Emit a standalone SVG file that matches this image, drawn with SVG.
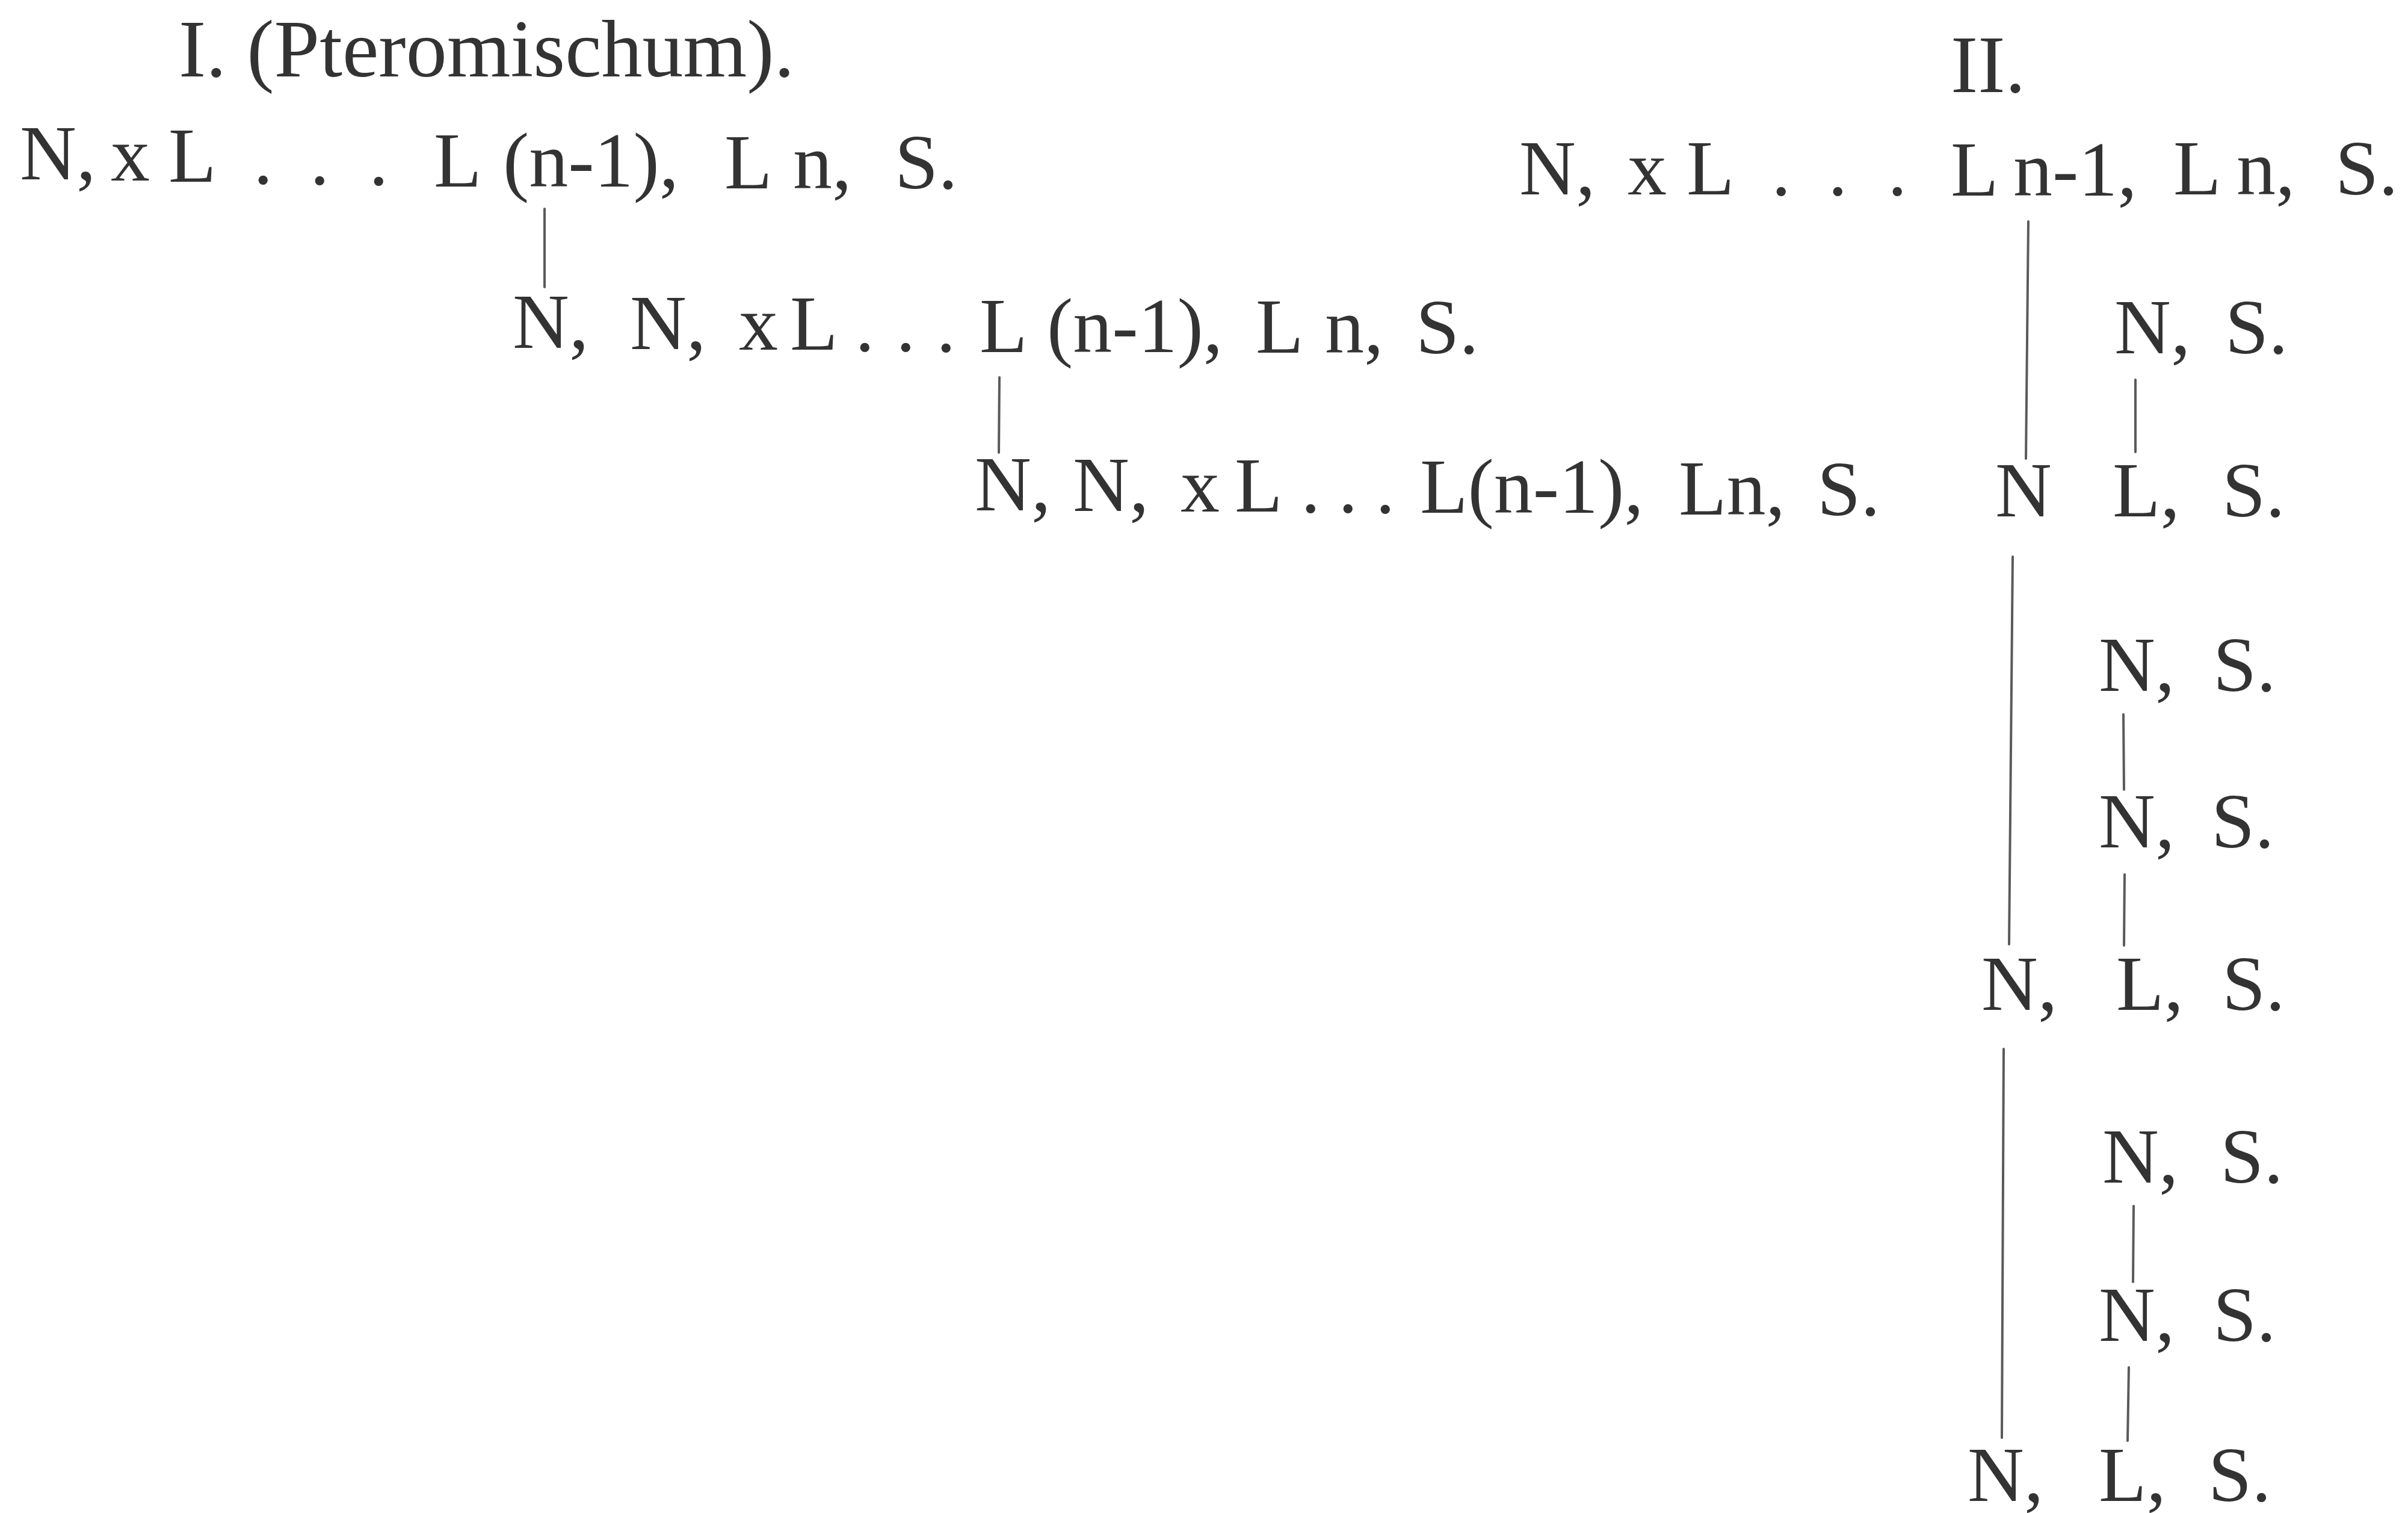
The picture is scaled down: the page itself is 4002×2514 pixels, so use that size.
<svg xmlns="http://www.w3.org/2000/svg" width="4002" height="2514" viewBox="0 0 4002 2514">
<style>
.t{font-family:"Liberation Serif","Times New Roman",serif;font-size:130px;fill:#333333}
.h{font-size:136px}
.c{stroke:#5a5a5a;stroke-width:4;fill:none;stroke-linecap:round}
</style>
<rect width="4002" height="2514" fill="#ffffff"/>
<g id="title-1"><text class="t h" x="297" y="127">I. (Pteromischum).</text></g>
<g id="title-2"><text class="t h" x="3242" y="153">II.</text></g>
<g id="left-row-1"><text class="t"><tspan x="33" y="298">N,</tspan><tspan x="184" y="300">x</tspan><tspan x="280" y="302">L</tspan><tspan x="421" y="305">.</tspan><tspan x="515" y="306">.</tspan><tspan x="613" y="307">.</tspan><tspan x="721" y="310">L</tspan><tspan x="836" y="310">(n-1),</tspan><tspan x="1204" y="313">L</tspan><tspan x="1318" y="313">n,</tspan><tspan x="1487" y="313">S.</tspan></text></g>
<g id="left-row-2"><text class="t"><tspan x="852" y="578">N,</tspan><tspan x="1047" y="580">N,</tspan><tspan x="1228" y="581">x</tspan><tspan x="1313" y="581">L</tspan><tspan x="1421" y="583">.</tspan><tspan x="1489" y="583">.</tspan><tspan x="1556" y="584">.</tspan><tspan x="1628" y="585">L</tspan><tspan x="1740" y="585">(n-1),</tspan><tspan x="2087" y="586">L</tspan><tspan x="2202" y="586">n,</tspan><tspan x="2353" y="587">S.</tspan></text></g>
<g id="left-row-3"><text class="t"><tspan x="1620" y="848">N,</tspan><tspan x="1783" y="849">N,</tspan><tspan x="1962" y="850">x</tspan><tspan x="2052" y="850">L</tspan><tspan x="2162" y="851">.</tspan><tspan x="2224" y="851">.</tspan><tspan x="2286" y="852">.</tspan><tspan x="2360" y="852">L(n-1),</tspan><tspan x="2790" y="855">Ln,</tspan><tspan x="3020" y="856">S.</tspan></text></g>
<g id="right-row-1"><text class="t"><tspan x="2525" y="323">N,</tspan><tspan x="2705" y="323">x</tspan><tspan x="2803" y="323">L</tspan><tspan x="2944" y="324">.</tspan><tspan x="3038" y="324">.</tspan><tspan x="3137" y="324">.</tspan><tspan x="3242" y="325">L</tspan><tspan x="3346" y="325">n-1,</tspan><tspan x="3612" y="323">L</tspan><tspan x="3717" y="323">n,</tspan><tspan x="3881" y="323">S.</tspan></text></g>
<g id="r-ns-1"><text class="t"><tspan x="3514" y="587">N,</tspan><tspan x="3698" y="587">S.</tspan></text></g>
<g id="r-n-1"><text class="t" x="3316" y="858">N</text></g>
<g id="r-ls-1"><text class="t"><tspan x="3511" y="858">L,</tspan><tspan x="3693" y="858">S.</tspan></text></g>
<g id="r-ns-2"><text class="t"><tspan x="3488" y="1148">N,</tspan><tspan x="3678" y="1148">S.</tspan></text></g>
<g id="r-ns-3"><text class="t"><tspan x="3488" y="1408">N,</tspan><tspan x="3675" y="1408">S.</tspan></text></g>
<g id="r-nls-1"><text class="t"><tspan x="3293" y="1678">N,</tspan><tspan x="3517" y="1678">L,</tspan><tspan x="3693" y="1678">S.</tspan></text></g>
<g id="r-ns-4"><text class="t"><tspan x="3494" y="1965">N,</tspan><tspan x="3690" y="1965">S.</tspan></text></g>
<g id="r-ns-5"><text class="t"><tspan x="3488" y="2228">N,</tspan><tspan x="3678" y="2228">S.</tspan></text></g>
<g id="r-nls-2"><text class="t"><tspan x="3270" y="2494">N,</tspan><tspan x="3488" y="2494">L,</tspan><tspan x="3670" y="2494">S.</tspan></text></g>
<g id="connectors">
<line class="c" x1="905" y1="347" x2="905" y2="477"/>
<line class="c" x1="1661" y1="627" x2="1660" y2="752"/>
<line class="c" x1="3371" y1="368" x2="3367" y2="762"/>
<line class="c" x1="3549" y1="631" x2="3549" y2="751"/>
<line class="c" x1="3345" y1="925" x2="3339" y2="1569"/>
<line class="c" x1="3529" y1="1187" x2="3530" y2="1312"/>
<line class="c" x1="3531" y1="1453" x2="3530" y2="1571"/>
<line class="c" x1="3330" y1="1743" x2="3327" y2="2389"/>
<line class="c" x1="3546" y1="2004" x2="3545" y2="2130"/>
<line class="c" x1="3538" y1="2272" x2="3536" y2="2394"/>
</g>
</svg>
